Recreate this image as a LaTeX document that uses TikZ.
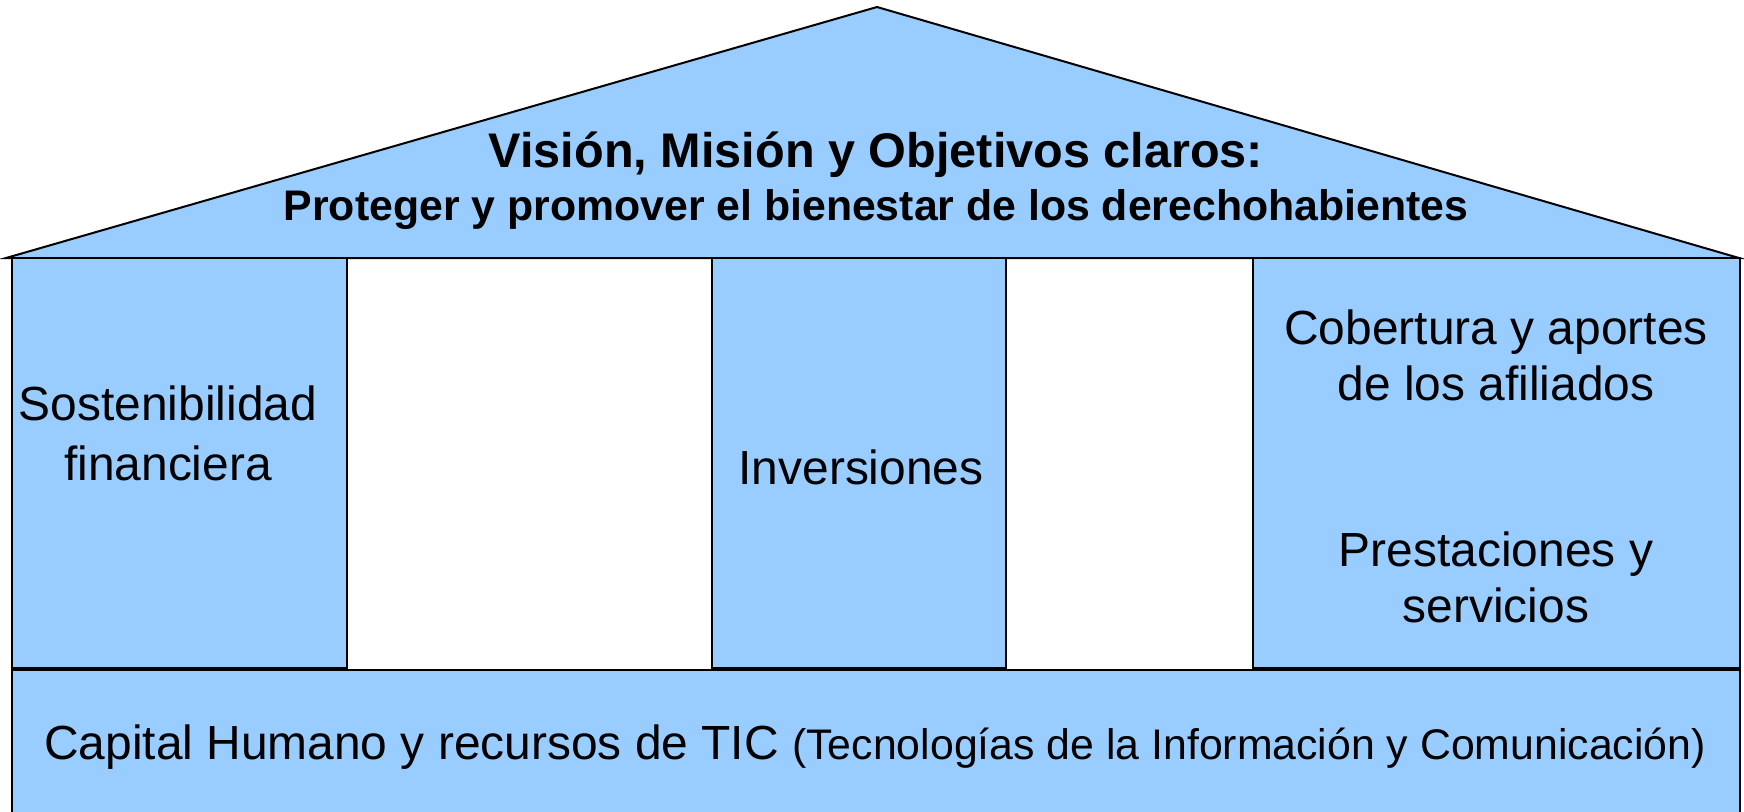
\documentclass[tikz,border=0pt]{standalone}
\usepackage{fontspec}
\setmainfont{Liberation Sans}
\definecolor{celeste}{HTML}{99CCFF}
\begin{document}
\begin{tikzpicture}[x=1pt,y=-1pt,line join=miter]
	\tikzset{pilar/.style={draw=black,line width=1.6pt,fill=celeste},
		rotulo/.style={align=center,anchor=base,inner sep=0pt,font=\fontsize{47.9}{56}\selectfont}}
	\def\ytop{258}\def\ybot{668}\def\ybase{670}
	\useasboundingbox (0,0) rectangle (1744,811);
	\clip (0,0) rectangle (1744,811);
	% techo
	\draw[pilar,line width=2pt] (6,\ytop)--(877,7)--(1739,\ytop)--cycle;
	% pilares
	\draw[pilar] (12,\ytop) rectangle (347,\ybot);
	\draw[pilar] (712,\ytop) rectangle (1006,\ybot);
	\draw[pilar] (1253,\ytop) rectangle (1740,\ybot);
	% base
	\draw[pilar] (12,\ybase) rectangle (1740,830);
	% textos (anchor base = ultima linea)
	\node[rotulo,font=\fontsize{48.6}{56}\selectfont\bfseries] (vision) at (876,167) {Visión, Misión y Objetivos claros:};
	\node[rotulo,font=\fontsize{42.8}{50}\selectfont\bfseries] (proteger) at (876,220) {Proteger y promover el bienestar de los derechohabientes};
	\node[rotulo,font=\fontsize{47.9}{60}\selectfont] (sostenibilidad) at (168,480) {Sostenibilidad\\financiera};
	\node[rotulo] (inversiones) at (861,484) {Inversiones};
	\node[rotulo] (cobertura) at (1496,400) {Cobertura y aportes\\de los afiliados};
	\node[rotulo] (prestaciones) at (1496,622) {Prestaciones y\\servicios};
	\node[rotulo] (capital) at (875,759) {Capital Humano y recursos de TIC {\fontsize{42.8}{50}\selectfont(Tecnologías de la Información y Comunicación)}};
\end{tikzpicture}
\end{document}
